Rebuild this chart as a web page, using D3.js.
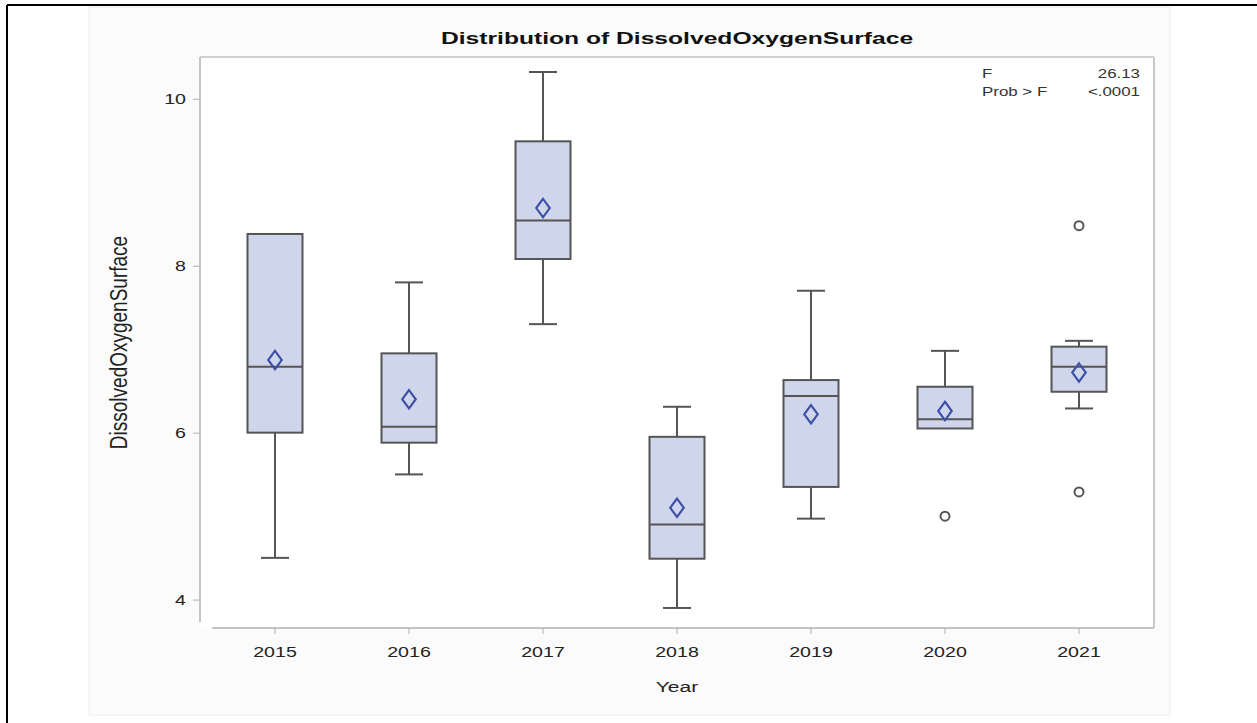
<!DOCTYPE html>
<html>
<head>
<meta charset="utf-8">
<script src="https://cdn.jsdelivr.net/npm/d3@7"></script>
<style>
  body { margin: 0; background: #fff; }
  svg { display: block; font-family: "Liberation Sans", Arial, sans-serif; }
</style>
</head>
<body>
<div id="main"></div>
<script>
/* data */
const years = ['2015', '2016', '2017', '2018', '2019', '2020', '2021'];
const whiskerLow = [4.5, 5.5, 7.3, 3.9, 4.97, 6.05, 6.29];
const q1 = [6.0, 5.88, 8.08, 4.49, 5.35, 6.05, 6.49];
const medians = [6.79, 6.07, 8.54, 4.9, 6.44, 6.16, 6.79];
const q3 = [8.38, 6.95, 9.49, 5.95, 6.63, 6.55, 7.03];
const whiskerHigh = [8.38, 7.8, 10.32, 6.31, 7.7, 6.98, 7.1];
const means = [6.87, 6.4, 8.69, 5.1, 6.22, 6.26, 6.72];
const outliers = [[], [], [], [], [], [5.0], [8.48, 5.29]];
const yTicks = [4, 6, 8, 10];
const statNames = ['F', 'Prob > F'];
const statValues = ['26.13', '<.0001'];

/* layout */
const svgWidth = 1257;
const svgHeight = 723;
const plot = { l: 200, r: 1154, t: 57, b: 628 };
const stretch = 1.4; // the source picture is widened, text included

const svg = d3.select('#main')
  .append('svg')
  .attr('width', svgWidth)
  .attr('height', svgHeight);

// page frame (table cell border)
svg.append('rect').attr('x', 89).attr('y', 7).attr('width', 1081).attr('height', 708)
  .attr('fill', '#fbfbfb').attr('stroke', '#eeeeee');
svg.append('line').attr('x1', 7).attr('x2', svgWidth).attr('y1', 5).attr('y2', 5)
  .attr('stroke', '#000').attr('stroke-width', 2);
svg.append('line').attr('x1', 7).attr('x2', 7).attr('y1', 5).attr('y2', svgHeight)
  .attr('stroke', '#000').attr('stroke-width', 2);

// scales
const x = d3.scaleBand().domain(years).range([plot.l + 8, plot.r - 8]);
const y = d3.scaleLinear().domain([3.66, 10.5]).range([plot.b, plot.t]);
const boxW = 55;
const capW = 28;

// plot wall
svg.append('rect').attr('x', plot.l).attr('y', plot.t)
  .attr('width', plot.r - plot.l).attr('height', plot.b - plot.t)
  .attr('fill', '#ffffff');
svg.append('line').attr('x1', plot.l).attr('x2', plot.r).attr('y1', plot.t).attr('y2', plot.t)
  .attr('stroke', '#d0d0d0').attr('stroke-width', 2);
svg.append('line').attr('x1', plot.r).attr('x2', plot.r).attr('y1', plot.t).attr('y2', plot.b)
  .attr('stroke', '#c8c8c8').attr('stroke-width', 2);

// axes
const yAxis = svg.append('g')
  .attr('transform', `translate(${plot.l},0)`)
  .call(d3.axisLeft(y).tickValues(yTicks).tickSize(7).tickPadding(6).tickFormat(d3.format('d')));
yAxis.select('.domain').attr('d', `M0,${plot.t}V${plot.b - 6}`);
yAxis.selectAll('.tick text')
  .attr('x', null)
  .attr('transform', `translate(-14,0) scale(${stretch},1)`);

const xAxis = svg.append('g')
  .attr('transform', `translate(0,${plot.b})`)
  .call(d3.axisBottom(x).tickSize(6).tickPadding(13));
xAxis.select('.domain').attr('d', `M${plot.l + 12},0H${plot.r}`);
xAxis.selectAll('.tick text').attr('transform', `scale(${stretch},1)`);

svg.selectAll('.domain').attr('stroke', '#c4c4c4').attr('stroke-width', 2);
svg.selectAll('.tick line').attr('stroke', '#b0b0b0');
svg.selectAll('.tick text').attr('fill', '#222').style('font-size', '14px');

// boxes
const idx = d3.range(years.length);
const boxes = svg.append('g').selectAll('g').data(idx).join('g')
  .attr('transform', i => `translate(${x(years[i]) + x.bandwidth() / 2},0)`);

boxes.append('line').attr('x1', 0).attr('x2', 0)
  .attr('y1', i => y(whiskerLow[i])).attr('y2', i => y(q1[i]))
  .attr('stroke', '#555').attr('stroke-width', 2);
boxes.append('line').attr('x1', 0).attr('x2', 0)
  .attr('y1', i => y(q3[i])).attr('y2', i => y(whiskerHigh[i]))
  .attr('stroke', '#555').attr('stroke-width', 2);
boxes.filter(i => whiskerLow[i] < q1[i]).append('line')
  .attr('x1', -capW / 2).attr('x2', capW / 2)
  .attr('y1', i => y(whiskerLow[i])).attr('y2', i => y(whiskerLow[i]))
  .attr('stroke', '#555').attr('stroke-width', 2);
boxes.filter(i => whiskerHigh[i] > q3[i]).append('line')
  .attr('x1', -capW / 2).attr('x2', capW / 2)
  .attr('y1', i => y(whiskerHigh[i])).attr('y2', i => y(whiskerHigh[i]))
  .attr('stroke', '#555').attr('stroke-width', 2);

boxes.append('rect')
  .attr('x', -boxW / 2).attr('width', boxW)
  .attr('y', i => y(q3[i])).attr('height', i => y(q1[i]) - y(q3[i]))
  .attr('fill', '#cfd5ea').attr('stroke', '#555').attr('stroke-width', 2);
boxes.append('line')
  .attr('x1', -boxW / 2).attr('x2', boxW / 2)
  .attr('y1', i => y(medians[i])).attr('y2', i => y(medians[i]))
  .attr('stroke', '#555').attr('stroke-width', 2);

// mean diamonds
boxes.append('path')
  .attr('d', d3.symbol(d3.symbolDiamond, 120))
  .attr('transform', i => `translate(0,${y(means[i])}) scale(1.15,0.9)`)
  .attr('fill', 'none').attr('stroke', '#3d4ea6').attr('stroke-width', 2);

// outliers
boxes.selectAll('circle').data(i => outliers[i]).join('circle')
  .attr('cy', d => y(d)).attr('r', 4.5)
  .attr('fill', 'none').attr('stroke', '#555').attr('stroke-width', 2);

// titles
svg.append('text')
  .attr('transform', `translate(${(plot.l + plot.r) / 2},44) scale(1.45,1)`)
  .attr('text-anchor', 'middle').style('font-size', '17px').style('font-weight', 'bold')
  .attr('fill', '#111').text('Distribution of DissolvedOxygenSurface');
svg.append('text')
  .attr('transform', `translate(${(plot.l + plot.r) / 2},692) scale(${stretch},1)`)
  .attr('text-anchor', 'middle').style('font-size', '15px').attr('fill', '#222').text('Year');
svg.append('text')
  .attr('transform', `translate(127,${(plot.t + plot.b) / 2}) scale(1.25,1) rotate(-90)`)
  .attr('text-anchor', 'middle').style('font-size', '19px').attr('fill', '#222')
  .text('DissolvedOxygenSurface');

// stats inset
const stats = svg.append('g');
stats.selectAll('.sname').data(statNames).join('text')
  .attr('transform', (d, i) => `translate(982,${78 + i * 18}) scale(1.3,1)`)
  .style('font-size', '13px').attr('fill', '#333').text(d => d);
stats.selectAll('.sval').data(statValues).join('text')
  .attr('transform', (d, i) => `translate(1140,${78 + i * 18}) scale(1.3,1)`)
  .attr('text-anchor', 'end')
  .style('font-size', '13px').attr('fill', '#333').text(d => d);
</script>
</body>
</html>
